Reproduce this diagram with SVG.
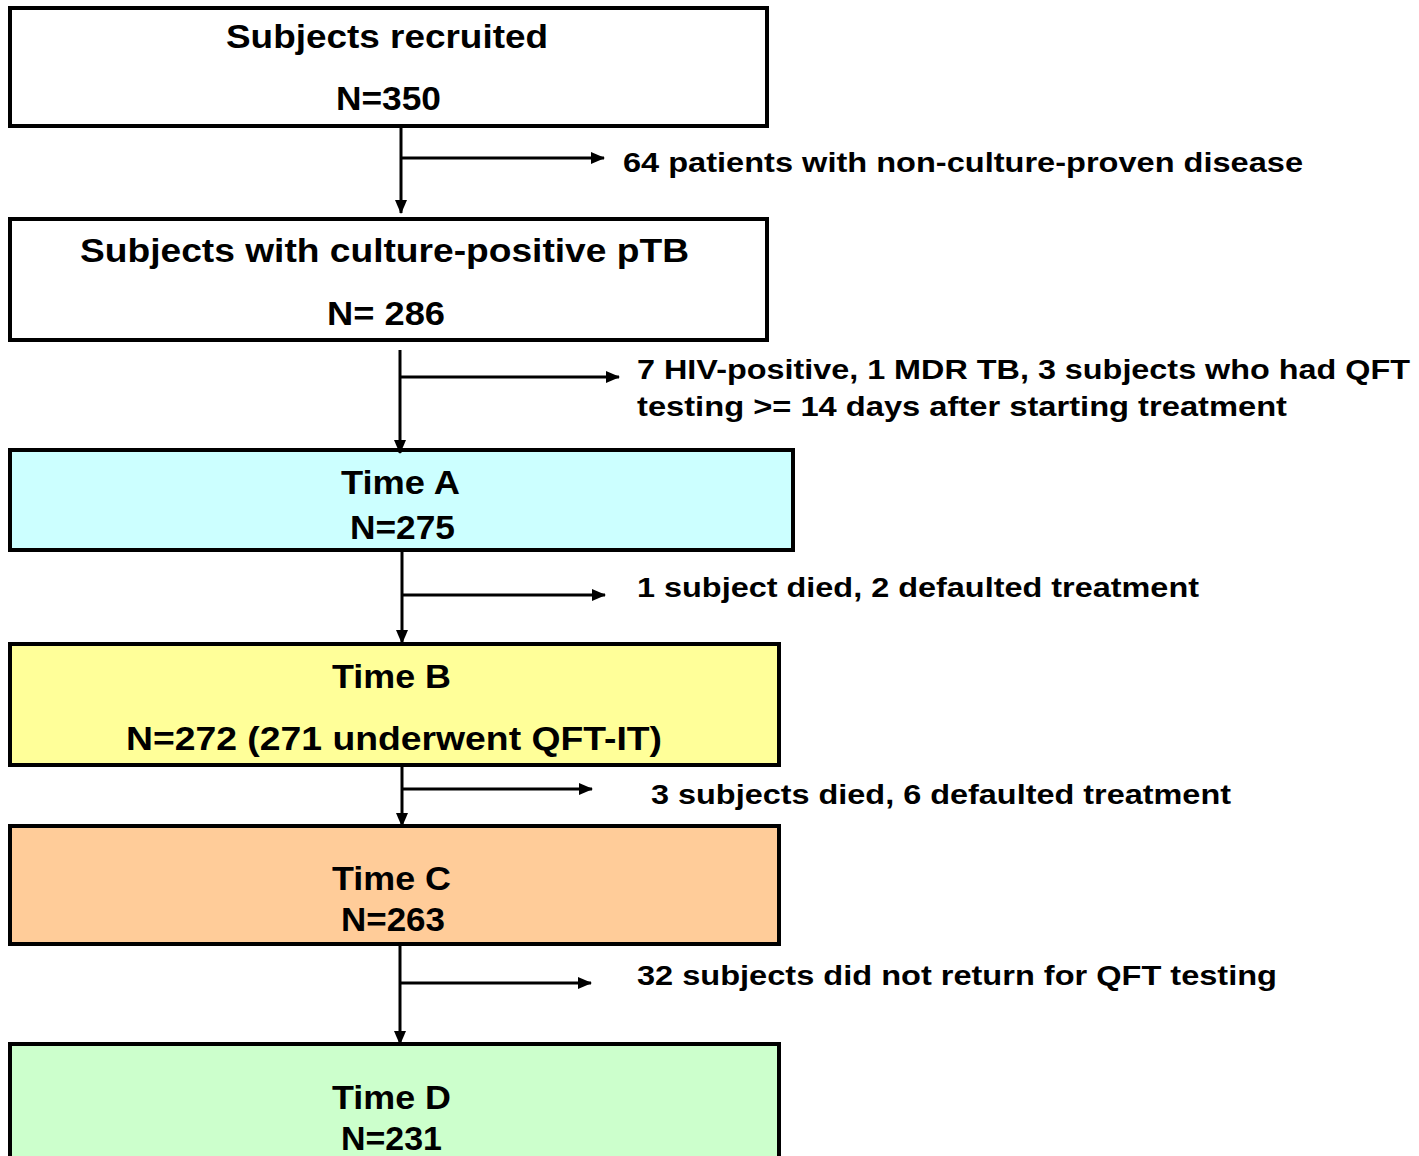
<svg xmlns="http://www.w3.org/2000/svg" width="1419" height="1156" viewBox="0 0 1419 1156">
<style>
.box{stroke:#000;stroke-width:4}
.t{font-family:"Liberation Sans",Arial,sans-serif;font-weight:bold;font-size:33px;fill:#000}
.s{font-family:"Liberation Sans",Arial,sans-serif;font-weight:bold;font-size:27px;fill:#000}
.c{stroke:#000;stroke-width:3;fill:none}
</style>
<defs>
<marker id="ah" markerUnits="userSpaceOnUse" markerWidth="14" markerHeight="12" refX="13" refY="6" orient="auto">
<path d="M0,0 L14,6 L0,12 Z" fill="#000"/>
</marker>
</defs>
<rect width="1419" height="1156" fill="#fff"/>
<g id="n1">
<rect class="box" x="10" y="8" width="757" height="118" fill="#fff"/>
<text class="t" x="226" y="48" textLength="322" lengthAdjust="spacingAndGlyphs">Subjects recruited</text>
<text class="t" x="336" y="110" textLength="105" lengthAdjust="spacingAndGlyphs">N=350</text>
</g>
<g id="n2">
<rect class="box" x="10" y="219" width="757" height="121" fill="#fff"/>
<text class="t" x="80" y="262" textLength="609" lengthAdjust="spacingAndGlyphs">Subjects with culture-positive pTB</text>
<text class="t" x="327" y="325" textLength="118" lengthAdjust="spacingAndGlyphs">N= 286</text>
</g>
<g id="n3">
<rect class="box" x="10" y="450" width="783" height="100" fill="#CCFFFF"/>
<text class="t" x="341" y="494" textLength="119" lengthAdjust="spacingAndGlyphs">Time A</text>
<text class="t" x="350" y="539" textLength="105" lengthAdjust="spacingAndGlyphs">N=275</text>
</g>
<g id="n4">
<rect class="box" x="10" y="644" width="769" height="121" fill="#FFFF99"/>
<text class="t" x="332" y="688" textLength="119" lengthAdjust="spacingAndGlyphs">Time B</text>
<text class="t" x="126" y="750" textLength="536" lengthAdjust="spacingAndGlyphs">N=272 (271 underwent QFT-IT)</text>
</g>
<g id="n5">
<rect class="box" x="10" y="826" width="769" height="118" fill="#FFCC99"/>
<text class="t" x="332" y="890" textLength="119" lengthAdjust="spacingAndGlyphs">Time C</text>
<text class="t" x="341" y="931" textLength="104" lengthAdjust="spacingAndGlyphs">N=263</text>
</g>
<g id="n6">
<rect class="box" x="10" y="1044" width="769" height="120" fill="#CCFFCC"/>
<text class="t" x="332" y="1109" textLength="119" lengthAdjust="spacingAndGlyphs">Time D</text>
<text class="t" x="341" y="1150" textLength="101" lengthAdjust="spacingAndGlyphs">N=231</text>
</g>
<g id="connectors">
<line class="c" x1="401" y1="124" x2="401" y2="213" marker-end="url(#ah)"/>
<line class="c" x1="401" y1="158" x2="604" y2="158" marker-end="url(#ah)"/>
<line class="c" x1="400" y1="350" x2="400" y2="453" marker-end="url(#ah)"/>
<line class="c" x1="400" y1="377" x2="619" y2="377" marker-end="url(#ah)"/>
<line class="c" x1="402" y1="548" x2="402" y2="643" marker-end="url(#ah)"/>
<line class="c" x1="402" y1="595" x2="605" y2="595" marker-end="url(#ah)"/>
<line class="c" x1="402" y1="763" x2="402" y2="826" marker-end="url(#ah)"/>
<line class="c" x1="402" y1="789" x2="592" y2="789" marker-end="url(#ah)"/>
<line class="c" x1="400" y1="942" x2="400" y2="1044" marker-end="url(#ah)"/>
<line class="c" x1="400" y1="983" x2="591" y2="983" marker-end="url(#ah)"/>
</g>
<g id="labels">
<text class="s" x="623" y="172" textLength="680" lengthAdjust="spacingAndGlyphs">64 patients with non-culture-proven disease</text>
<text class="s" x="637" y="379" textLength="773" lengthAdjust="spacingAndGlyphs">7 HIV-positive, 1 MDR TB, 3 subjects who had QFT</text>
<text class="s" x="637" y="416" textLength="650" lengthAdjust="spacingAndGlyphs">testing &gt;= 14 days after starting treatment</text>
<text class="s" x="637" y="597" textLength="562" lengthAdjust="spacingAndGlyphs">1 subject died, 2 defaulted treatment</text>
<text class="s" x="651" y="804" textLength="580" lengthAdjust="spacingAndGlyphs">3 subjects died, 6 defaulted treatment</text>
<text class="s" x="637" y="985" textLength="640" lengthAdjust="spacingAndGlyphs">32 subjects did not return for QFT testing</text>
</g>
</svg>
